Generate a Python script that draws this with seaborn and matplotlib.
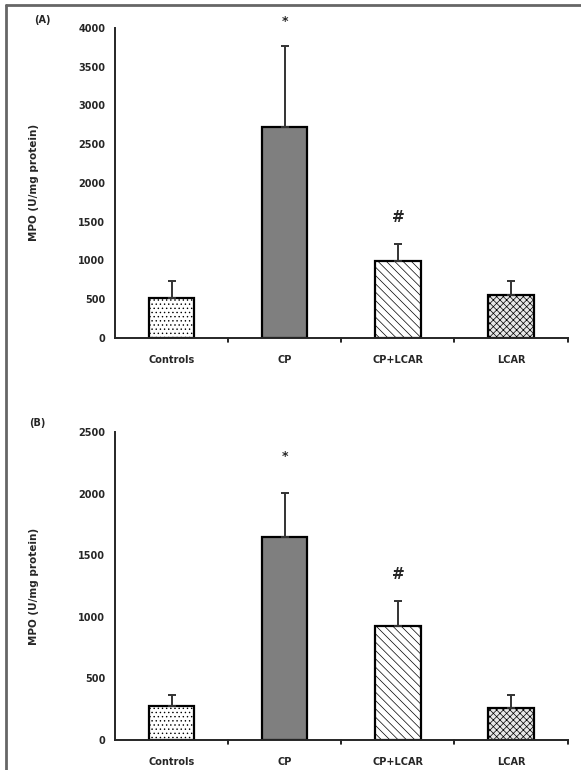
import pandas as pd
import numpy as np
import matplotlib
matplotlib.use("Agg")
import matplotlib.pyplot as plt
from matplotlib.lines import Line2D
import seaborn as sns

# MPO activity, two panels (A) and (B)
groups = ["Controls", "CP", "CP+LCAR", "LCAR"]
mpo_a = [520, 2720, 990, 550]
err_a = [210, 1050, 220, 180]
mpo_b = [276, 1648, 925, 260]
err_b = [90, 357, 203, 105]
marks = ["", "*", "#", ""]   # significance symbols above bars

yticks_a = [0, 500, 1000, 1500, 2000, 2500, 3000, 3500, 4000]
yticks_b = [0, 500, 1000, 1500, 2000, 2500]

fills = ["white", "#7f7f7f", "white", "#e6e6e6"]
hatches = ["....", None, "\\\\\\\\", "xxxxx"]

sns.set_style("white")
plt.rcParams["font.family"] = ["DejaVu Sans"]
plt.rcParams["hatch.linewidth"] = 0.5

fig = plt.figure(figsize=(5.81, 7.7), dpi=100)
ax_a = fig.add_axes([0.198, 0.561, 0.779, 0.403])
ax_b = fig.add_axes([0.198, 0.039, 0.779, 0.400])


def draw_panel(ax, vals, errs, yticks, tag, tag_xy, star_off):
    df = pd.DataFrame({"group": groups, "mpo": vals})
    sns.barplot(data=df, x="group", y="mpo", order=groups, width=0.4,
                errorbar=None, ax=ax, edgecolor="black", linewidth=1.6)
    for p, fc, h in zip(ax.patches, fills, hatches):
        p.set_facecolor(fc)
        if h:
            p.set_hatch(h)
            p.set_edgecolor("black")
    xs = np.arange(len(groups))
    ax.errorbar(xs, vals, yerr=[np.zeros(len(vals)), errs], fmt="none",
                ecolor="#333333", elinewidth=1.4, capsize=3, capthick=1.4)
    for x, v, e, m in zip(xs, vals, errs, marks):
        if m == "*":
            ax.annotate("*", (x, v + e), xytext=(0, star_off),
                        textcoords="offset points", ha="center", va="center",
                        fontsize=9, fontweight="bold", annotation_clip=False)
        elif m == "#":
            ax.annotate("#", (x, v + e), xytext=(0, 19),
                        textcoords="offset points", ha="center", va="center",
                        fontsize=11, fontweight="bold", annotation_clip=False)

    ax.set_ylim(0, yticks[-1])
    ax.set_xlim(-0.5, 3.5)
    ax.set_yticks(yticks)
    ax.set_yticklabels([str(t) for t in yticks], fontsize=7, fontweight="bold")
    ax.set_xticks(xs)
    ax.set_xticklabels(groups, fontsize=7, fontweight="bold")
    ax.tick_params(axis="x", length=0, pad=12)
    ax.tick_params(axis="y", length=4, width=1.2, direction="out", pad=3)
    for x in [0.5, 1.5, 2.5, 3.5]:
        ax.plot([x, x], [0, -yticks[-1] * 0.012], color="black", lw=1.2,
                clip_on=False)
    sns.despine(ax=ax)
    ax.spines["left"].set_linewidth(1.4)
    ax.spines["bottom"].set_linewidth(1.4)
    ax.set_xlabel("")
    ax.set_ylabel("MPO (U/mg protein)", fontsize=7.5, fontweight="bold",
                  labelpad=28)
    ax.text(tag_xy[0], tag_xy[1], tag, transform=ax.transAxes,
            fontsize=7, fontweight="bold", ha="center", va="center")


draw_panel(ax_a, mpo_a, err_a, yticks_a, "(A)", (-0.161, 1.026), 17)
draw_panel(ax_b, mpo_b, err_b, yticks_b, "(B)", (-0.172, 1.03), 26)

# frame lines along the left and top edges
fig.add_artist(Line2D([0.0095, 0.0095], [0, 0.993], color="#666666", lw=2,
                      transform=fig.transFigure))
fig.add_artist(Line2D([0.0095, 1], [0.993, 0.993], color="#666666", lw=2,
                      transform=fig.transFigure))

fig.savefig("out.png", dpi=100, facecolor="white")
